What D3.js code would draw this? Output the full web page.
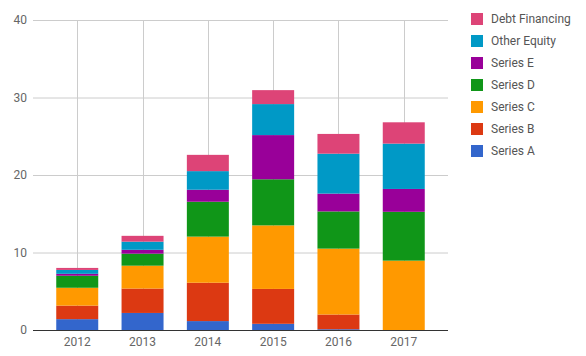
<!DOCTYPE html>
<html><head><meta charset="utf-8">
<script src="https://cdn.jsdelivr.net/npm/d3@7"></script>
<style>body{margin:0;background:#fff;} svg{display:block;font-family:Roboto,"Liberation Sans",Arial,sans-serif;}</style>
</head><body><svg id="c" width="586" height="356"></svg>
<script>
const years = ["2012","2013","2014","2015","2016","2017"];
const seriesNames = ["Series A","Series B","Series C","Series D","Series E","Other Equity","Debt Financing"];
const seriesA = [1.4, 2.2, 1.15, 0.8, 0.1, 0];
const seriesB = [1.75, 3.15, 4.95, 4.5, 1.9, 0];
const seriesC = [2.3, 2.95, 5.95, 8.2, 8.5, 8.95];
const seriesD = [1.55, 1.55, 4.5, 5.95, 4.8, 6.3];
const seriesE = [0.25, 0.5, 1.55, 5.7, 2.3, 2.95];
const otherEquity = [0.5, 1.05, 2.4, 4.0, 5.15, 5.85];
const debtFinancing = [0.26, 0.75, 2.1, 1.8, 2.55, 2.75];
const yTicks = [0, 10, 20, 30, 40];
const colors = ["#3366cc","#dc3912","#ff9900","#109618","#990099","#0099c6","#dd4477"];

(function(){
const allSeries = [seriesA, seriesB, seriesC, seriesD, seriesE, otherEquity, debtFinancing];
const rows = years.map((y,i)=>{const r={year:y}; seriesNames.forEach((s,j)=>r[s]=allSeries[j][i]); return r;});
const stacked = d3.stack().keys(seriesNames)(rows);

const svg = d3.select("#c");
const L = 33, R = 448, T = 20, B = 330;
const x = d3.scaleBand().domain(years).range([L,R]).paddingInner(0.357).paddingOuter(0.356);
const y = d3.scaleLinear().domain([0,40]).range([B,T]);

svg.append("g").selectAll("line").data(yTicks.filter(t=>t>0)).join("line")
  .attr("x1",L).attr("x2",R).attr("y1",d=>y(d)+0.5).attr("y2",d=>y(d)+0.5)
  .attr("stroke","#cccccc");
svg.append("g").selectAll("line").data(years).join("line")
  .attr("x1",d=>Math.round(x(d)+x.bandwidth()/2)+0.5).attr("x2",d=>Math.round(x(d)+x.bandwidth()/2)+0.5)
  .attr("y1",T).attr("y2",B).attr("stroke","#cccccc");

svg.append("g").selectAll("g").data(stacked).join("g")
  .attr("fill",(d,i)=>colors[i])
  .selectAll("rect").data(d=>d).join("rect")
  .attr("x",d=>x(d.data.year)).attr("width",x.bandwidth())
  .attr("y",d=>y(d[1])).attr("height",d=>Math.max(0,y(d[0])-y(d[1])));

svg.append("line").attr("x1",L).attr("x2",R).attr("y1",B+0.5).attr("y2",B+0.5)
  .attr("stroke","#333333").attr("stroke-width",1);

const yAxis = d3.axisLeft(y).tickValues(yTicks).tickSize(0).tickPadding(0);
const ya = svg.append("g").attr("transform",`translate(${L-6},0)`).call(yAxis);
ya.select(".domain").remove();
ya.selectAll("text").attr("font-size",12).attr("fill","#666").attr("font-family","Roboto, sans-serif");

const xAxis = d3.axisBottom(x).tickSize(0).tickPadding(0);
const xa = svg.append("g").attr("transform",`translate(0,${B+7})`).call(xAxis);
xa.select(".domain").remove();
xa.selectAll("text").attr("font-size",12).attr("fill","#666").attr("font-family","Roboto, sans-serif");

const legendOrder = seriesNames.map((s,i)=>({name:s,color:colors[i]})).reverse();
const lg = svg.append("g").selectAll("g").data(legendOrder).join("g")
  .attr("transform",(d,i)=>`translate(471,${13+i*22})`);
lg.append("rect").attr("width",12).attr("height",12).attr("fill",d=>d.color);
lg.append("text").attr("x",20).attr("y",6).attr("dy","0.35em").attr("font-size",12).attr("fill","#555")
  .attr("font-family","Roboto, sans-serif").text(d=>d.name);
})();
</script></body></html>
